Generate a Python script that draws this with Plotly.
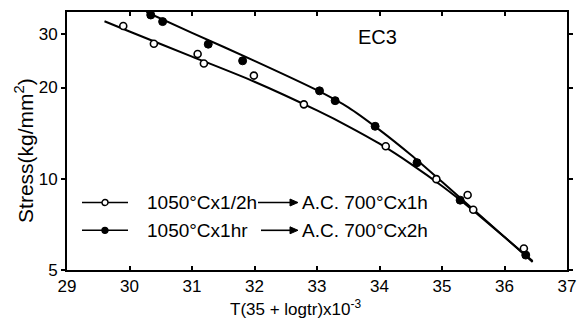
import plotly.graph_objects as go

# Data
open_x = [29.9, 30.39, 31.09, 31.19, 31.99, 32.79, 34.1, 34.91, 35.41, 35.5, 36.31]
open_y = [31.9, 27.9, 25.8, 24.0, 21.9, 17.6, 12.8, 9.97, 8.84, 7.9, 5.89]
filled_x = [30.34, 30.53, 31.26, 31.81, 33.04, 33.29, 33.93, 34.6, 35.29, 36.34]
filled_y = [34.7, 33.0, 27.8, 24.5, 19.5, 18.1, 14.9, 11.3, 8.5, 5.6]

# Fitted curves
open_fit_x = [29.6, 30.0, 31.0, 32.0, 33.0, 33.5, 34.0, 34.5, 35.0, 35.5, 36.0, 36.45]
open_fit_y = [33.1, 30.6, 25.3, 20.9, 16.8, 14.9, 13.05, 11.2, 9.46, 7.85, 6.42, 5.35]
filled_fit_x = [30.27, 31.0, 32.0, 33.0, 33.5, 34.0, 34.5, 35.0, 36.0, 36.45]
filled_fit_y = [35.5, 30.3, 24.5, 19.6, 17.2, 14.5, 12.0, 9.77, 6.43, 5.31]

x_ticks = [29, 30, 31, 32, 33, 34, 35, 36, 37]
y_ticks = [5, 10, 20, 30]
x_range = [29, 37]
y_range_log = [0.69897, 1.5502]

legend_labels = [("1050°Cx1/2h", "A.C. 700°Cx1h"), ("1050°Cx1hr", "A.C. 700°Cx2h")]

FONT = "Liberation Sans, Arial, sans-serif"

fig = go.Figure()
fig.add_trace(go.Scatter(x=open_fit_x, y=open_fit_y, mode="lines",
                         line=dict(color="black", width=2, shape="spline", smoothing=0.8),
                         showlegend=False, hoverinfo="skip"))
fig.add_trace(go.Scatter(x=filled_fit_x, y=filled_fit_y, mode="lines",
                         line=dict(color="black", width=2, shape="spline", smoothing=0.8),
                         showlegend=False, hoverinfo="skip"))
fig.add_trace(go.Scatter(x=open_x, y=open_y, mode="markers",
                         marker=dict(symbol="circle", size=7, color="white",
                                     line=dict(color="black", width=1.6)),
                         showlegend=False))
fig.add_trace(go.Scatter(x=filled_x, y=filled_y, mode="markers",
                         marker=dict(symbol="circle", size=8, color="black",
                                     line=dict(color="black", width=1)),
                         showlegend=False))

# page has an 8px body margin; compensate so the plot lands where the reference has it
OFF = 8
W, H = 577, 312
L, R, T, B = 67 - OFF, 18, 10 - OFF, 50
pw, ph = W - L - R, H - T - B

def px2paper(px, py):
    # px, py are page pixel positions
    return (px - OFF - L) / pw, (H - B - (py - OFF)) / ph

shapes = []
annotations = []
rows_y = [202, 230]
for i, (left_txt, right_txt) in enumerate(legend_labels):
    py = rows_y[i]
    x0, y0 = px2paper(82, py)
    x1, _ = px2paper(128, py)
    shapes.append(dict(type="line", xref="paper", yref="paper", x0=x0, x1=x1, y0=y0, y1=y0,
                       line=dict(color="black", width=1.6)))
    cx0, cy0 = px2paper(102, py - 3)
    cx1, cy1 = px2paper(108, py + 3)
    shapes.append(dict(type="circle", xref="paper", yref="paper", x0=cx0, x1=cx1, y0=cy1, y1=cy0,
                       fillcolor="white" if i == 0 else "black",
                       line=dict(color="black", width=1.4)))
    tx, ty = px2paper(145, py)
    annotations.append(dict(text=left_txt, xref="paper", yref="paper", x=tx, y=ty,
                            xanchor="left", yanchor="middle", showarrow=False,
                            font=dict(family=FONT, size=19, color="black")))
    tail = 258 if i == 0 else 261
    ax0, ay0 = px2paper(tail, py)
    ax1, _ = px2paper(291, py)
    shapes.append(dict(type="line", xref="paper", yref="paper", x0=ax0, x1=ax1, y0=ay0, y1=ay0,
                       line=dict(color="black", width=1.6)))
    hx0, hy_top = px2paper(290, py - 3.5)
    hx1, hy_mid = px2paper(298, py)
    _, hy_bot = px2paper(290, py + 3.5)
    shapes.append(dict(type="path", xref="paper", yref="paper",
                       path=f"M{hx0},{hy_top} L{hx1},{hy_mid} L{hx0},{hy_bot} Z",
                       fillcolor="black", line=dict(color="black", width=1)))
    rx, ry = px2paper(300, py)
    annotations.append(dict(text=right_txt, xref="paper", yref="paper", x=rx, y=ry,
                            xanchor="left", yanchor="middle", showarrow=False,
                            font=dict(family=FONT, size=19, color="black")))

ex, ey = px2paper(377, 35)
annotations.append(dict(text="EC3", xref="paper", yref="paper", x=ex, y=ey,
                        xanchor="center", yanchor="middle", showarrow=False,
                        font=dict(family=FONT, size=20, color="black")))
tx, ty = px2paper(295, 308)
annotations.append(dict(text="T(35 + logtr)x10<sup>-3</sup>", xref="paper", yref="paper",
                        x=tx, y=ty, xanchor="center", yanchor="middle", showarrow=False,
                        font=dict(family=FONT, size=17, color="black")))
sx, sy = px2paper(24, 150)
annotations.append(dict(text="Stress(kg/mm<sup>2</sup>)", xref="paper", yref="paper",
                        x=sx, y=sy, xanchor="center", yanchor="middle", showarrow=False,
                        textangle=-90,
                        font=dict(family=FONT, size=21, color="black")))

fig.update_layout(
    width=W, height=H,
    margin=dict(l=L, r=R, t=T, b=B),
    paper_bgcolor="white", plot_bgcolor="white",
    font=dict(family=FONT, color="black"),
    shapes=shapes, annotations=annotations,
    showlegend=False,
)
fig.update_xaxes(range=x_range, tickvals=x_ticks, ticktext=[str(v) for v in x_ticks],
                 showgrid=False, zeroline=False, showline=True, linecolor="black", linewidth=2,
                 mirror="ticks", ticks="inside", ticklen=4, tickwidth=1.5, tickcolor="black",
                 tickfont=dict(family=FONT, size=17, color="black"))
fig.update_yaxes(type="log", range=y_range_log, tickvals=y_ticks,
                 ticktext=[str(v) for v in y_ticks],
                 showgrid=False, zeroline=False, showline=True, linecolor="black", linewidth=2,
                 mirror="ticks", ticks="outside", ticklen=4, tickwidth=1.5, tickcolor="black",
                 tickfont=dict(family=FONT, size=17, color="black"))

fig.write_html("out.html")
